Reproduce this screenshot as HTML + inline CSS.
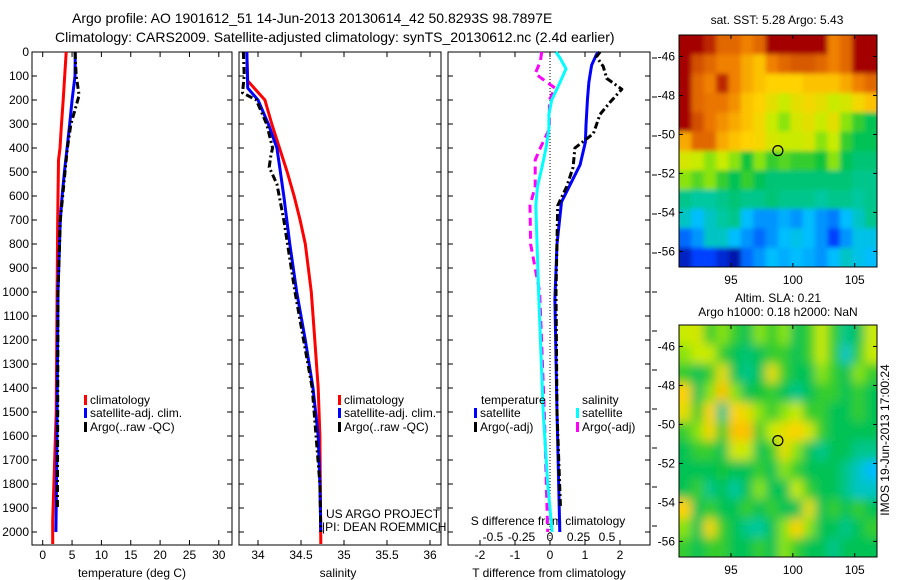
<!DOCTYPE html>
<html><head><meta charset="utf-8"><style>
body{margin:0;background:#fff;}
svg{display:block;font-family:"Liberation Sans",sans-serif;}
</style></head><body>
<svg id="fig" width="900" height="580" viewBox="0 0 900 580" xmlns="http://www.w3.org/2000/svg">
<defs>
<filter id="blurS" x="-5%" y="-5%" width="110%" height="110%"><feGaussianBlur stdDeviation="2.5"/></filter>
<filter id="blurL" x="-5%" y="-5%" width="110%" height="110%"><feGaussianBlur stdDeviation="5"/></filter>
<clipPath id="clip1"><rect x="679" y="35" width="198" height="232"/></clipPath>
<clipPath id="clip2"><rect x="679" y="325" width="198" height="232"/></clipPath>
</defs>
<text x="72" y="23" font-size="14">Argo profile: AO 1901612_51 14-Jun-2013 20130614_42 50.8293S 98.7897E</text>
<text x="55" y="42" font-size="14">Climatology: CARS2009. Satellite-adjusted climatology: synTS_20130612.nc (2.4d earlier)</text>
<g id="g"></g>
</svg>
<script>
// ---- data ----
const depthTicks=[0,100,200,300,400,500,600,700,800,900,1000,1100,1200,1300,1400,1500,1600,1700,1800,1900,2000];
const tempTicks=[0,5,10,15,20,25,30];
const salTicks=[34,34.5,35,35.5,36];
const tdTicks=[-2,-1,0,1,2];
const sdTicks=[-0.5,-0.25,0,0.25,0.5];
const sdTickLabels=["-0.5","-0.25","0","0.25","0.5"];
const tClimD=[0,200,300,400,450,700,1000,1500,1800,1950,2050];
const tClimV=[4.0,3.5,3.2,2.95,2.7,2.55,2.45,2.3,1.9,1.7,1.7];
const tSatD=[0,100,200,300,400,500,600,700,1000,1500,1700,2000];
const tSatV=[5.55,5.5,5.0,4.6,4.15,3.7,3.3,3.0,2.6,2.45,2.4,2.25];
const tArgoD=[0,100,180,250,300,400,500,600,700,1000,1500,1900];
const tArgoV=[5.5,5.7,6.2,5.4,4.8,4.2,3.8,3.4,3.0,2.6,2.55,2.5];
const sClimD=[0,120,200,300,400,500,600,700,800,1000,1200,1400,1600,2050];
const sClimV=[33.87,33.88,34.08,34.16,34.25,34.34,34.42,34.49,34.55,34.62,34.66,34.70,34.72,34.73];
const sSatD=[0,150,200,300,400,500,600,800,1000,1200,1400,1600,1800,2000];
const sSatV=[33.87,33.88,34.0,34.12,34.22,34.26,34.30,34.37,34.45,34.55,34.64,34.70,34.72,34.73];
const sArgoD=[0,100,170,200,300,400,430,480,550,700,1000,1400,1800,2000];
const sArgoV=[33.83,33.84,33.82,33.98,34.1,34.17,34.15,34.13,34.22,34.3,34.43,34.63,34.72,34.73];
const dtSatD=[0,10,55,125,195,305,375,470,540,625,800,1030,1500,2000];
const dtSatV=[1.41,1.33,1.19,1.11,1.07,1.03,1.01,0.86,0.62,0.33,0.2,0.14,0.2,0.28];
const dtArgoD=[0,20,60,110,155,210,260,340,400,480,560,640,1000,1500,1900];
const dtArgoV=[1.43,1.33,1.52,1.62,2.05,1.71,1.43,1.24,0.71,0.66,0.48,0.22,0.17,0.2,0.3];
const dsSatD=[0,25,70,120,150,200,260,320,400,480,560,640,1000,1500,1800,2000];
const dsSatV=[0.053,0.088,0.14,0.094,0.065,0.015,-0.01,-0.01,-0.035,-0.07,-0.11,-0.125,-0.1,-0.06,-0.02,0.018];
const dsArgoD=[0,40,90,125,150,200,320,400,450,560,640,800,1000,1500,2000];
const dsArgoV=[-0.073,-0.085,-0.13,-0.03,0.044,-0.005,-0.005,-0.085,-0.13,-0.13,-0.175,-0.17,-0.09,-0.05,-0.02];
const sstGrid=[
[1,1,0.95,0.85,0.85,0.8,0.85,1,1,1,1,1,0.8,0.85,1,1],
[1,0.9,0.85,0.8,0.8,0.75,0.72,0.8,0.85,0.88,0.88,0.85,0.8,0.85,1,1],
[1,0.85,0.8,0.95,0.8,0.75,0.72,0.7,0.7,0.7,0.72,0.72,0.72,0.75,0.8,0.85],
[1,0.85,0.82,0.82,0.78,0.72,0.7,0.65,0.6,0.65,0.68,0.65,0.6,0.62,0.68,0.72],
[1,0.9,0.82,0.78,0.75,0.72,0.68,0.6,0.55,0.62,0.65,0.6,0.65,0.55,0.5,0.45],
[0.75,0.85,0.85,0.75,0.72,0.7,0.68,0.62,0.6,0.6,0.62,0.55,0.6,0.5,0.45,0.45],
[0.62,0.6,0.55,0.6,0.55,0.48,0.55,0.5,0.52,0.5,0.5,0.48,0.55,0.45,0.42,0.42],
[0.55,0.52,0.55,0.5,0.45,0.5,0.45,0.42,0.42,0.42,0.42,0.42,0.42,0.42,0.4,0.4],
[0.4,0.38,0.38,0.4,0.42,0.4,0.4,0.42,0.4,0.4,0.4,0.38,0.4,0.4,0.38,0.4],
[0.35,0.3,0.35,0.38,0.4,0.3,0.25,0.25,0.28,0.25,0.3,0.25,0.22,0.3,0.35,0.4],
[0.2,0.25,0.35,0.35,0.3,0.25,0.2,0.25,0.3,0.32,0.3,0.25,0.15,0.25,0.32,0.32],
[0.08,0.15,0.15,0.1,0.05,0.2,0.25,0.3,0.28,0.3,0.28,0.25,0.3,0.35,0.32,0.3]];
const slaGrid=[
[0.6,0.62,0.5,0.55,0.5,0.45,0.55,0.5,0.55,0.45,0.5,0.6,0.5,0.4,0.45,0.6],
[0.55,0.6,0.6,0.5,0.45,0.42,0.45,0.5,0.5,0.45,0.5,0.6,0.5,0.35,0.5,0.6],
[0.5,0.45,0.5,0.65,0.45,0.4,0.45,0.65,0.5,0.45,0.45,0.55,0.5,0.45,0.55,0.5],
[0.7,0.45,0.55,0.72,0.55,0.45,0.48,0.5,0.45,0.4,0.45,0.5,0.5,0.45,0.5,0.45],
[0.65,0.5,0.7,0.4,0.7,0.65,0.55,0.5,0.55,0.6,0.5,0.5,0.45,0.45,0.5,0.45],
[0.5,0.55,0.68,0.5,0.72,0.72,0.5,0.6,0.65,0.7,0.62,0.5,0.45,0.45,0.45,0.45],
[0.45,0.5,0.5,0.45,0.62,0.6,0.45,0.5,0.65,0.55,0.45,0.4,0.45,0.45,0.4,0.4],
[0.45,0.45,0.45,0.48,0.45,0.45,0.5,0.45,0.55,0.5,0.45,0.45,0.45,0.4,0.35,0.3],
[0.45,0.5,0.4,0.45,0.38,0.45,0.55,0.45,0.45,0.6,0.5,0.45,0.45,0.4,0.35,0.35],
[0.7,0.45,0.5,0.45,0.45,0.5,0.45,0.5,0.45,0.45,0.65,0.45,0.5,0.45,0.5,0.45],
[0.55,0.45,0.68,0.5,0.45,0.4,0.38,0.45,0.55,0.7,0.55,0.45,0.45,0.4,0.45,0.5],
[0.5,0.45,0.5,0.5,0.45,0.45,0.5,0.45,0.55,0.5,0.45,0.45,0.4,0.45,0.45,0.45]];
const lonTicks=[95,100,105];
const latTicks=[-46,-48,-50,-52,-54,-56];
const argoLon=98.79, argoLat=-50.83;

// ---- helpers ----
const NS="http://www.w3.org/2000/svg";
const G=document.getElementById('g');
function mk(tag,attrs,parent){const e=document.createElementNS(NS,tag);for(const k in attrs)e.setAttribute(k,attrs[k]);(parent||G).appendChild(e);return e;}
function txt(x,y,s,size,anchor){const e=mk('text',{x:x,y:y,'font-size':size||12,'text-anchor':anchor||'start'});e.textContent=s;return e;}
const yD=d=>52+d*0.24;
const PT={x0:32,x1:232}, PS={x0:239,x1:441}, PD={x0:448,x1:650};
const xT=v=>42.7+v*5.87, xS=v=>258+(v-34)*86, xDT=v=>550+v*35, xDS=v=>550+v*114;
const TOP=52,BOT=545;

function frame(p,name){
  const r=mk('rect',{x:p.x0,y:TOP,width:p.x1-p.x0,height:BOT-TOP,fill:'none',stroke:'#000','stroke-width':1});
  
  
  depthTicks.forEach(d=>{mk('line',{x1:p.x0,x2:p.x0+5,y1:yD(d),y2:yD(d),stroke:'#000'});mk('line',{x1:p.x1,x2:p.x1-5,y1:yD(d),y2:yD(d),stroke:'#000'});});
}
function xticks(vals,f,labels,y){
  vals.forEach((v,i)=>{const x=f(v);mk('line',{x1:x,x2:x,y1:TOP,y2:TOP+5,stroke:'#000'});mk('line',{x1:x,x2:x,y1:BOT,y2:BOT-5,stroke:'#000'});
    const t=txt(x,y,labels?labels[i]:String(v),12,'middle');
    
    });
}
function line(D,V,f,color,name,dash){
  const pts=D.map((d,i)=>f(V[i]).toFixed(1)+','+yD(d).toFixed(1)).join(' ');
  const a={points:pts,fill:'none',stroke:color,'stroke-width':3,'stroke-linejoin':'round'};
  if(dash)a['stroke-dasharray']=dash;
  const e=mk('polyline',a);
  
  
}
function legend(x,y,color,label,name){
  mk('rect',{x:x,y:y-9,width:3,height:10,fill:color});
  const t=txt(x+6,y,label,12);
  
  
}

// panel 1: temperature
frame(PT,'temperature-panel');
depthTicks.forEach(d=>{const t=txt(29,yD(d)+4,String(d),12,'end');
  
  });
xticks(tempTicks,xT,null,559);
let t1=txt(132,577,'temperature (deg C)',12,'middle');


line(tClimD,tClimV,xT,'#f00','temp-climatology-line');
line(tSatD,tSatV,xT,'#00f','temp-satellite-line');
line(tArgoD,tArgoV,xT,'#000','temp-argo-line','7,3,2,3');
legend(84,404,'#f00','climatology','legend-climatology');
legend(84,417,'#00f','satellite-adj. clim.','legend-satellite');
legend(84,431,'#000','Argo(..raw -QC)','legend-argo');

// panel 2: salinity
frame(PS,'salinity-panel');
xticks(salTicks,xS,null,559);
let t2=txt(338,577,'salinity',12,'middle');


line(sClimD,sClimV,xS,'#f00','sal-climatology-line');
line(sSatD,sSatV,xS,'#00f','sal-satellite-line');
line(sArgoD,sArgoV,xS,'#000','sal-argo-line','7,3,2,3');
legend(338,404,'#f00','climatology','legend-climatology-2');
legend(338,417,'#00f','satellite-adj. clim.','legend-satellite-2');
legend(338,431,'#000','Argo(..raw -QC)','legend-argo-2');
let u1=txt(326,518,'US ARGO PROJECT',12);
let u2=txt(322,531,'|PI: DEAN ROEMMICH',12);

// panel 3: differences
frame(PD,'difference-panel');
mk('line',{x1:550,x2:550,y1:TOP,y2:BOT,stroke:'#000','stroke-dasharray':'1,2'});
for(let y=58;y<BOT;y+=39)mk('line',{x1:652,x2:657,y1:y,y2:y,stroke:'#000'});
xticks(tdTicks,xDT,null,559);
sdTicks.forEach((v,i)=>{const t=txt(xDS(v),541,sdTickLabels[i],12,'middle');
  
  });
let t3=txt(549,577,'T difference from climatology',12,'middle');

let t4=txt(548,525,'S difference from climatology',12,'middle');

line(dsArgoD,dsArgoV,xDS,'#f0f','sdiff-argo-line','8,5');
line(dsSatD,dsSatV,xDS,'#0ff','sdiff-satellite-line');
line(dtSatD,dtSatV,xDT,'#00f','tdiff-satellite-line');
line(dtArgoD,dtArgoV,xDT,'#000','tdiff-argo-line','7,3,2,3');
let l1=txt(481,404,'temperature',12);
let l2=txt(582,404,'salinity',12);
legend(474,417,'#00f','satellite','legend-t-satellite');
legend(474,431,'#000','Argo(-adj)','legend-t-argo');
legend(576,417,'#0ff','satellite','legend-s-satellite');
legend(576,431,'#f0f','Argo(-adj)','legend-s-argo');

// maps
const cmapStops=[[0,[0,0,127]],[0.15,[0,64,255]],[0.3,[0,190,255]],[0.38,[0,200,160]],[0.47,[0,192,64]],[0.58,[190,240,0]],[0.7,[255,210,0]],[0.8,[240,128,0]],[0.9,[210,80,0]],[1,[165,0,0]]];
function cmap(v){for(let i=1;i<cmapStops.length;i++){if(v<=cmapStops[i][0]){const a=cmapStops[i-1],b=cmapStops[i];const t=(v-a[0])/(b[0]-a[0]);return 'rgb('+a[1].map((c,k)=>Math.round(c+(b[1][k]-c)*t)).join(',')+')';}}return 'rgb(165,0,0)';}
function map(top,bot,grid,name,clip,filt){
  const x0=679,x1=877,lon0=90.8,lon1=106.8,lat0=-44.9,lat1=-56.8;
  const xL=l=>x0+(l-lon0)*(x1-x0)/(lon1-lon0), yL=l=>top+(lat0-l)*(bot-top)/(lat0-lat1);
  const rows=grid.length,cols=grid[0].length,cw=(x1-x0)/cols,ch=(bot-top)/rows;
  const outer=mk('g',{'clip-path':'url(#'+clip+')'});
  
  
  const g=mk('g',{filter:'url(#'+filt+')'},outer);
  grid.forEach((row,r)=>row.forEach((v,c)=>{
    let x=x0+c*cw,y=top+r*ch,w=cw+0.6,h=ch+0.6;
    if(c===0){x-=12;w+=12;} if(c===cols-1)w+=12;
    if(r===0){y-=12;h+=12;} if(r===rows-1)h+=12;
    mk('rect',{x:x,y:y,width:w,height:h,fill:cmap(v)},g);}));
  mk('rect',{x:x0,y:top,width:x1-x0,height:bot-top,fill:'none',stroke:'#000'});
  lonTicks.forEach(l=>{const x=xL(l);mk('line',{x1:x,x2:x,y1:top,y2:top+4,stroke:'#000'});mk('line',{x1:x,x2:x,y1:bot,y2:bot-4,stroke:'#000'});
    const t=txt(x,bot+17,String(l),12,'middle');});
  latTicks.forEach(l=>{const y=yL(l);mk('line',{x1:x0,x2:x0+4,y1:y,y2:y,stroke:'#000'});mk('line',{x1:x1,x2:x1-4,y1:y,y2:y,stroke:'#000'});
    const t=txt(x0-4,y+4,String(l),12,'end');});
  const c=mk('circle',{cx:xL(argoLon),cy:yL(argoLat),r:5,fill:'none',stroke:'#000','stroke-width':1.2});
  
  
}
map(35,267,sstGrid,'sst-map','clip1','blurS');
map(325,557,slaGrid,'sla-map','clip2','blurL');
let m1=txt(777,24,'sat. SST: 5.28 Argo: 5.43',12,'middle');
let m2=txt(778,302,'Altim. SLA: 0.21',12,'middle');
let m3=txt(778,316,'Argo h1000: 0.18 h2000: NaN',12,'middle');
let m4=txt(0,0,'IMOS 19-Jun-2013 17:00:24',12,'middle');m4.setAttribute('transform','translate(889,440) rotate(-90)');

</script>
</body></html>
